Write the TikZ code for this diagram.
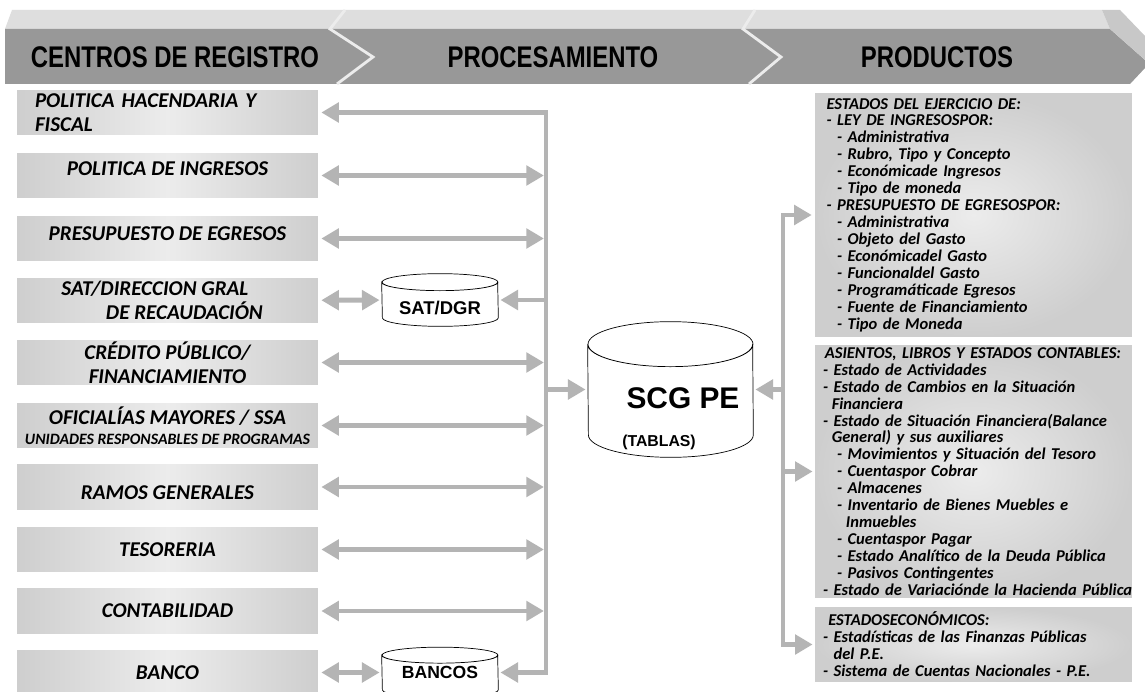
\documentclass[tikz,border=0pt]{standalone}
\usepackage{fontspec}
\setmainfont{Carlito}
\newfontfamily\arialfont{Liberation Sans}
\usepackage{tikz}
\usetikzlibrary{arrows.meta}
\definecolor{bandafrente}{RGB}{152,152,152}
\definecolor{bandatapa}{RGB}{222,222,222}
\definecolor{bandalado}{RGB}{200,200,200}
\definecolor{cajaborde}{RGB}{206,206,206}
\definecolor{cajacentro}{RGB}{236,236,236}
\definecolor{gris}{RGB}{180,180,180}
\tikzstyle{centro} = [rectangle, minimum width=6.02cm, minimum height=0.9cm, inner sep=0pt, text centered, left color=cajaborde, right color=cajaborde, middle color=cajacentro, font=\fontsize{12}{13.5}\selectfont\bfseries\itshape]
\tikzstyle{producto} = [rectangle, minimum width=6.34cm, inner sep=0pt, text width=6.16cm, align=left, inner color=cajacentro, outer color=cajaborde, font=\fontsize{9.4}{9.64}\selectfont\bfseries\itshape]
\tikzstyle{tabla} = [rectangle, inner sep=0pt, font=\arialfont\bfseries]
\tikzstyle{encabezado} = [font=\arialfont\bfseries\fontsize{17}{19}\selectfont, xscale=0.8]
\tikzstyle{linea} = [line width=2.8pt, gris, line join=miter]
\tikzstyle{flecha} = [linea, -{Triangle[length=10pt,width=11pt]}, shorten >=1.2pt]
\tikzstyle{dflecha} = [linea, {Triangle[length=10pt,width=11pt]}-{Triangle[length=10pt,width=11pt]}, shorten <=1.7pt, shorten >=1.2pt]
\newcommand{\cilindro}[3]{\draw [thin] ([yshift=-#3]#1.north west) arc [start angle=180, end angle=360, x radius=#2, y radius=#3] -- ([yshift=#3]#1.south east) arc [start angle=0, end angle=-180, x radius=#2, y radius=#3] -- cycle ([yshift=-#3]#1.north) ellipse [x radius=#2, y radius=#3];}

\begin{document}
\begin{tikzpicture}[x=0.02cm, y=-0.02cm]
            \useasboundingbox (0,0) rectangle (1145,692);
            \fill [white] (0,0) rectangle (1145,692);
            \fill [bandatapa] (12,10) -- (1102,10) -- (1110,29) -- (5,29) -- cycle;
            \fill [bandafrente] (5,29) -- (1110,29) -- (1145,60) -- (1145,68) -- (1130,84) -- (5,84) -- cycle;
            \fill [bandalado] (1102,10) -- (1120,10) -- (1145,36) -- (1145,60) -- (1110,29) -- cycle;
            \draw [white!85!gray, line width=1.6pt] (345,10) -- (330,29) -- (373,57) -- (337,84);
            \draw [white!85!gray, line width=1.6pt] (755,10) -- (743,29) -- (781,57) -- (749,84);
            \node [encabezado] at (175,57) (hcentros) {CENTROS DE REGISTRO};
            \node [encabezado] at (553,57) (hproceso) {PROCESAMIENTO};
            \node [encabezado] at (937,57) (hproductos) {PRODUCTOS};

            \node [centro, text width=5.3cm, align=left] at (167.5,112.5) (politica) {POLITICA HACENDARIA Y\\FISCAL};
            \node [centro, text depth=8pt] at (167.5,175.5) (ingresos) {POLITICA DE INGRESOS};
            \node [centro, text depth=6pt] at (167.5,238.5) (egresos) {PRESUPUESTO DE EGRESOS};
            \node [centro, align=center] at (167.5,300.5) (sat) {SAT/DIRECCION GRAL\hspace*{1.2em}\\\hspace*{1.6em}DE RECAUDACIÓN};
            \node [centro, align=center] at (167.5,362.5) (credito) {CRÉDITO PÚBLICO/\\FINANCIAMIENTO};
            \node [centro, align=center] at (167.5,425.5) (oficialias) {OFICIALÍAS MAYORES / SSA\\[-2pt]{\fontsize{9}{10}\selectfont UNIDADES RESPONSABLES DE PROGRAMAS}};
            \node [centro, text height=14pt] at (167.5,487) (ramos) {RAMOS GENERALES};
            \node [centro] at (167.5,549.5) (tesoreria) {TESORERIA};
            \node [centro] at (167.5,611) (contabilidad) {CONTABILIDAD};
            \node [centro] at (167.5,672.5) (banco) {BANCO};

            \node [tabla, minimum width=2.32cm, minimum height=1.04cm, text height=16.5pt, text depth=0pt] at (440,300) (satdgr) {\fontsize{10.5}{12}\selectfont SAT/DGR};
            \node [tabla, minimum width=2.32cm, minimum height=1cm] at (440,672.5) (bancos) {\fontsize{10}{12}\selectfont BANCOS};
            \node [tabla, minimum width=3.3cm, minimum height=2.7cm] at (670.5,389.5) (scg) {};
            \node [font=\arialfont\bfseries\fontsize{17}{19}\selectfont] at (683,398) (scgpe) {SCG PE};
            \node [font=\arialfont\bfseries\fontsize{9}{11}\selectfont] at (659,442) (tablas) {(TABLAS)};
            \cilindro{satdgr}{1.16cm}{0.17cm}
            \cilindro{bancos}{1.16cm}{0.16cm}
            \cilindro{scg}{1.65cm}{0.45cm}

            \node [producto, minimum height=4.88cm] at (973.5,215) (ejercicio) {\hspace*{4pt}ESTADOS DEL EJERCICIO DE:\\
            \hspace*{4pt}- LEY DE INGRESOSPOR:\\
            \hspace*{10pt}- Administrativa\\
            \hspace*{10pt}- Rubro, Tipo y Concepto\\
            \hspace*{10pt}- Económicade Ingresos\\
            \hspace*{10pt}- Tipo de moneda\\
            \hspace*{4pt}- PRESUPUESTO DE EGRESOSPOR:\\
            \hspace*{10pt}- Administrativa\\
            \hspace*{10pt}- Objeto del Gasto\\
            \hspace*{10pt}- Económicadel Gasto\\
            \hspace*{10pt}- Funcionaldel Gasto\\
            \hspace*{10pt}- Programáticade Egresos\\
            \hspace*{10pt}- Fuente de Financiamiento\\
            \hspace*{10pt}- Tipo de Moneda};
            \node [producto, minimum height=5.06cm] at (973.5,471.5) (asientos) {\hspace*{3pt}ASIENTOS, LIBROS Y ESTADOS CONTABLES:\\
            \hspace*{2pt}- Estado de Actividades\\
            \hspace*{2pt}- Estado de Cambios en la Situación\\
            \hspace*{7pt}Financiera\\
            \hspace*{2pt}- Estado de Situación Financiera(Balance\\
            \hspace*{7pt}General) y sus auxiliares\\
            \hspace*{10pt}- Movimientos y Situación del Tesoro\\
            \hspace*{10pt}- Cuentaspor Cobrar\\
            \hspace*{10pt}- Almacenes\\
            \hspace*{10pt}- Inventario de Bienes Muebles e\\
            \hspace*{15pt}Inmuebles\\
            \hspace*{10pt}- Cuentaspor Pagar\\
            \hspace*{10pt}- Estado Analítico de la Deuda Pública\\
            \hspace*{10pt}- Pasivos Contingentes\\
            \mbox{\hspace*{2pt}- Estado de Variaciónde la Hacienda Pública}};
            \node [producto, minimum height=1.5cm] at (973.5,644.5) (economicos) {\hspace*{5pt}ESTADOSECONÓMICOS:\\
            \hspace*{2pt}- Estadísticas de las Finanzas Públicas\\
            \hspace*{8pt}del P.E.\\
            \hspace*{2pt}- Sistema de Cuentas Nacionales - P.E.};

            \coordinate (bus) at (546,400);
            \coordinate (bustop) at (546,112.5);
            \coordinate (busbot) at (546,672.5);
            \coordinate (busr) at (783,400);
            \coordinate (busrtop) at (783,215);
            \coordinate (busrbot) at (783,644.5);

            \draw [dflecha] (politica) -- (bustop) -- (busbot) -- (bancos);
            \draw [dflecha] (ingresos) -- (ingresos -| bus);
            \draw [dflecha] (egresos) -- (egresos -| bus);
            \draw [dflecha] (credito) -- (credito -| bus);
            \draw [dflecha] (oficialias) -- (oficialias -| bus);
            \draw [dflecha] (ramos) -- (ramos -| bus);
            \draw [dflecha] (tesoreria) -- (tesoreria -| bus);
            \draw [dflecha] (contabilidad) -- (contabilidad -| bus);
            \draw [dflecha] (sat) -- (satdgr);
            \draw [dflecha] (banco) -- (bancos);
            \draw [flecha] (satdgr -| bus) -- (satdgr);
            \draw [flecha] (scg -| bus) -- (scg);
            \draw [flecha] (scg -| busr) -- (scg);
            \draw [dflecha] (ejercicio) -- (busrtop) -- (busrbot) -- (economicos);
            \draw [flecha] (asientos -| busr) -- (asientos);
            \end{tikzpicture}
\end{document}
